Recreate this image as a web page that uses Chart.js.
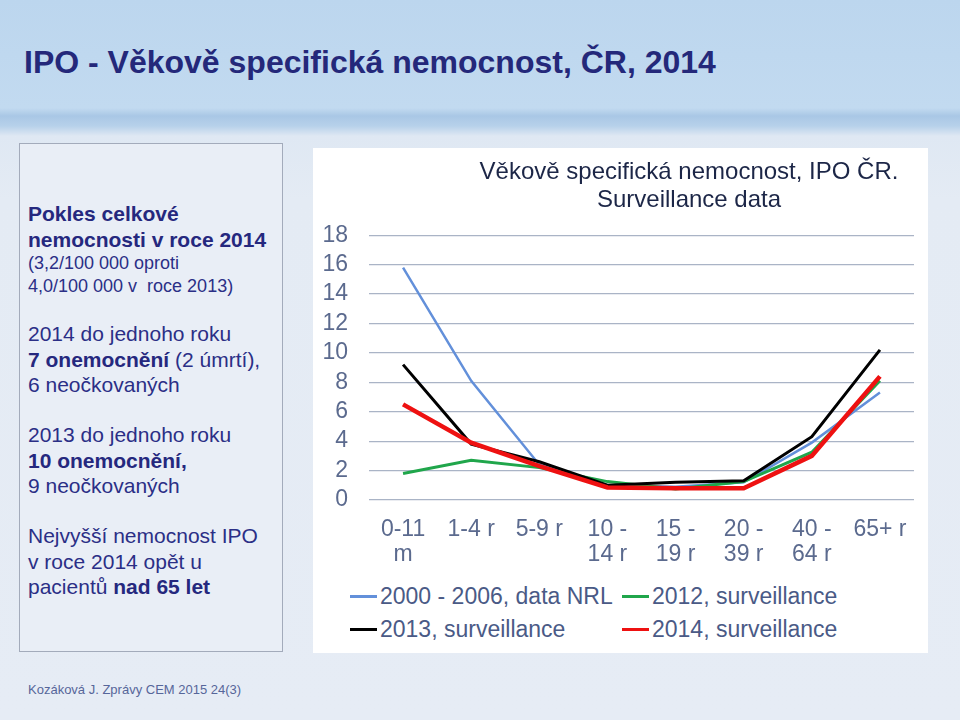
<!DOCTYPE html>
<html lang="cs">
<head>
<meta charset="utf-8">
<script src="https://cdn.jsdelivr.net/npm/chart.js@4"></script>
<style>
  html, body { margin: 0; padding: 0; }
  body {
    width: 960px; height: 720px; position: relative; overflow: hidden;
    font-family: Arial, "Liberation Sans", sans-serif;
    background: linear-gradient(#bcd6ee 0px, #c2daf0 108px, #a9c7e5 116px, #b7d1ea 126px, #dfe8f3 136px, #e4ebf4 200px, #e6ecf5 720px);
  }
  .slide-title {
    position: absolute; left: 24px; top: 44px;
    font-size: 32px; font-weight: bold; color: #24287a; white-space: nowrap;
  }
  .side {
    position: absolute; left: 19px; top: 143px; width: 264px; height: 509px;
    border: 1px solid #a3abbb; background: #e9eef6; box-sizing: border-box;
  }
  .para { position: absolute; left: 8px; color: #2b2f86; font-size: 21px; line-height: 25.5px; white-space: nowrap; }
  .para .small { font-size: 18px; line-height: 23px; }
  .para b { color: #25287e; }
  .panel {
    position: absolute; left: 313px; top: 148px; width: 615px; height: 505px; background: #fff;
  }
  .panel canvas { position: absolute; left: 0; top: 0; }
  .legend { position: absolute; left: 0; top: 430px; width: 615px; height: 75px; }
  .legend__item {
    position: absolute; display: flex; align-items: center;
    font-size: 23px; color: #4a5a86; white-space: nowrap; height: 30px;
  }
  .legend__line { display: inline-block; width: 27px; height: 3px; margin-right: 3px; }
  .footer { position: absolute; left: 28px; top: 682px; font-size: 13px; color: #56669a; }
</style>
</head>
<body>
<div class="slide-title">IPO - Věkově specifická nemocnost, ČR, 2014</div>

<div class="side">
  <div class="para" style="top:57px"><b>Pokles celkové</b><br><b>nemocnosti v roce 2014</b><div class="small">(3,2/100 000 oproti<br>4,0/100 000 v&nbsp; roce 2013)</div></div>
  <div class="para" style="top:177px">2014 do jednoho roku<br><b>7 onemocnění</b> (2 úmrtí),<br>6 neočkovaných</div>
  <div class="para" style="top:278px">2013 do jednoho roku<br><b>10 onemocnění,</b><br>9 neočkovaných</div>
  <div class="para" style="top:379px">Nejvyšší nemocnost IPO<br>v roce 2014 opět u<br>pacientů <b>nad 65 let</b></div>
</div>

<div class="panel">
  <canvas id="lineChart" width="615" height="430"></canvas>
  <div class="legend" id="legend"></div>
</div>

<div class="footer">Kozáková J. Zprávy CEM 2015 24(3)</div>

<script>
// ---- Data ----
const ageGroups = [['0-11', 'm'], '1-4 r', '5-9 r', ['10 -', '14 r'], ['15 -', '19 r'], ['20 -', '39 r'], ['40 -', '64 r'], '65+ r'];
const yTicks = [0, 2, 4, 6, 8, 10, 12, 14, 16, 18];

const seriesNames = ['2000 - 2006, data NRL', '2012, surveillance', '2013, surveillance', '2014, surveillance'];
const nrl2000_2006 = [15.8, 8.1, 2.4, 1.0, 0.9, 1.2, 3.9, 7.3];
const surv2012 = [1.8, 2.7, 2.2, 1.25, 0.75, 1.25, 3.25, 8.1];
const surv2013 = [9.2, 3.8, 2.6, 1.0, 1.2, 1.3, 4.3, 10.2];
const surv2014 = [6.5, 3.9, 2.3, 0.85, 0.8, 0.8, 3.0, 8.4];

const seriesColors = ['#6390da', '#20a64b', '#000000', '#ee1111'];
const seriesWidths = [2.5, 3, 3, 4.5];
const seriesOrder = [4, 3, 2, 1]; // red drawn on top

const font = "Arial, 'Liberation Sans', sans-serif";
const allSeries = [nrl2000_2006, surv2012, surv2013, surv2014];

// the original title sits right of centre; shift its box to match
const shiftTitle = {
  id: 'shiftTitle',
  afterLayout(chart) {
    const t = chart.titleBlock;
    if (t) {
      t.left = chart.chartArea.left + 81;
      t.right = chart.width;
      t.width = t.right - t.left;
    }
  }
};

new Chart(document.getElementById('lineChart'), {
  type: 'line',
  data: {
    labels: ageGroups,
    datasets: allSeries.map((values, i) => ({
      label: seriesNames[i],
      data: values,
      borderColor: seriesColors[i],
      backgroundColor: seriesColors[i],
      borderWidth: seriesWidths[i],
      pointRadius: 0,
      tension: 0,
      order: seriesOrder[i]
    }))
  },
  options: {
    responsive: false,
    animation: false,
    layout: { padding: { left: 0, right: 14, top: 0, bottom: 0 } },
    plugins: {
      legend: { display: false },
      tooltip: { enabled: false },
      title: {
        display: true,
        text: ['Věkově specifická nemocnost, IPO ČR.', 'Surveillance data'],
        color: '#1c2647',
        font: { family: font, size: 24, weight: 'normal', lineHeight: 1.17 },
        padding: { top: 10, bottom: 21 }
      }
    },
    scales: {
      x: {
        offset: true,
        grid: { display: false },
        border: { display: false },
        ticks: {
          color: '#5b6a8e', padding: 9, maxRotation: 0, autoSkip: false,
          font: { family: font, size: 23, lineHeight: 1.1 }
        },
        afterFit: scale => { scale.height = 78; }
      },
      y: {
        min: 0, max: 18,
        afterBuildTicks: scale => { scale.ticks = yTicks.map(v => ({ value: v })); },
        grid: { color: '#aab4c6', lineWidth: 1.2, drawTicks: false },
        border: { display: false },
        ticks: {
          color: '#5b6a8e', padding: 21, autoSkip: false,
          font: { family: font, size: 23 }
        },
        afterFit: scale => { scale.width = 56; }
      }
    }
  },
  plugins: [shiftTitle]
});

// Legend in two aligned columns, as in the reference
const legendEl = document.getElementById('legend');
const legendPos = [[37, 3], [309, 3], [37, 36], [309, 36]];
seriesNames.forEach((name, i) => {
  const item = document.createElement('span');
  item.className = 'legend__item';
  item.style.left = legendPos[i][0] + 'px';
  item.style.top = legendPos[i][1] + 'px';
  item.innerHTML = `<span class="legend__line" style="background:${seriesColors[i]}"></span>${name}`;
  legendEl.appendChild(item);
});
</script>
</body>
</html>
